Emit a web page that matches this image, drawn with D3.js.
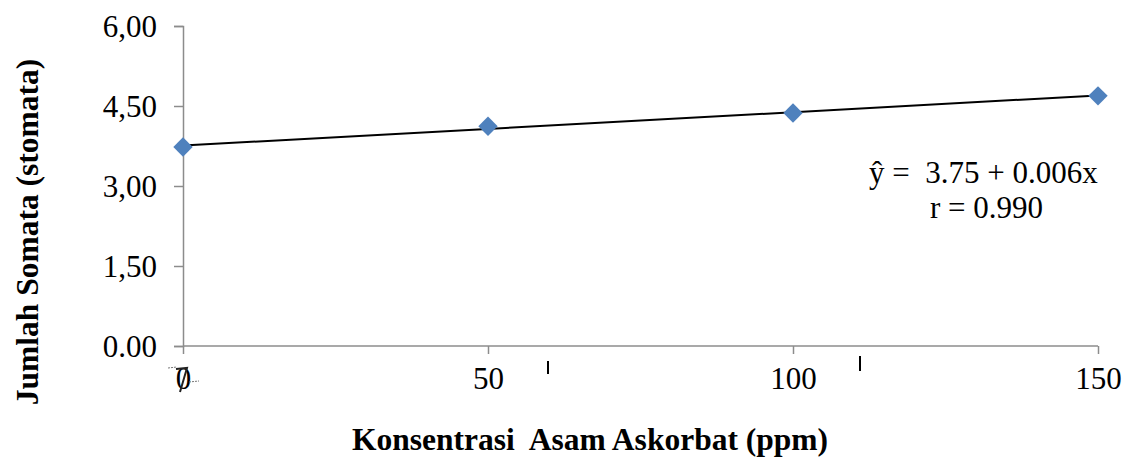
<!DOCTYPE html>
<html><head><meta charset="utf-8">
<script src="https://cdn.jsdelivr.net/npm/d3@7"></script>
<style>body{margin:0;background:#fff}svg{display:block}text{font-family:"Liberation Serif","Times New Roman",serif}</style>
</head><body><svg id="c" width="1125" height="459"></svg>
<script>
const concentrations = [0, 50, 100, 150];
const stomataCounts = [3.73, 4.12, 4.37, 4.69];
const yTicks = [0, 1.5, 3, 4.5, 6];
const yTickLabels = ["0.00", "1,50", "3,00", "4,50", "6,00"];
const xTicks = [0, 50, 100, 150];
const equationLines = ["ŷ =  3.75 + 0.006x", "r = 0.990"];

const svg = d3.select("#c");
const x = d3.scaleLinear().domain([0, 150]).range([183, 1098]);
const y = d3.scaleLinear().domain([0, 6]).range([346, 26]);
const axisColor = "#8c8c8c";

// Y axis
const yAxis = d3.axisLeft(y).tickValues(yTicks).tickSize(9).tickPadding(17)
  .tickFormat((d, i) => yTickLabels[i]);
const gy = svg.append("g").attr("transform", "translate(183,0)").call(yAxis);
gy.select(".domain").attr("stroke", axisColor).attr("stroke-width", 1.5);
gy.selectAll(".tick line").attr("stroke", axisColor).attr("stroke-width", 1.5);
gy.selectAll(".tick text").attr("font-size", 31).attr("fill", "#000")
  .attr("font-family", "Liberation Serif").attr("dy", "0.33em");

// X axis
const xAxis = d3.axisBottom(x).tickValues(xTicks).tickSize(8).tickPadding(13)
  .tickFormat(d3.format("d"));
const gx = svg.append("g").attr("transform", "translate(0,346)").call(xAxis);
gx.select(".domain").attr("stroke", axisColor).attr("stroke-width", 1.5)
  .attr("d", `M${x(0)},0H${x(150)}`);
gx.selectAll(".tick line").attr("stroke", axisColor).attr("stroke-width", 1.5);
gx.selectAll(".tick text").attr("font-size", 31).attr("fill", "#000")
  .attr("font-family", "Liberation Serif").attr("dy", "0.71em");

// stray marks as in the reference (drawn as strokes)
svg.append("path").attr("d", "M176,369 L187,368 L180,392")
  .attr("fill", "none").attr("stroke", "#222").attr("stroke-width", 2);
svg.append("line").attr("x1", 168).attr("y1", 368).attr("x2", 177).attr("y2", 367)
  .attr("stroke", "#777").attr("stroke-width", 1).attr("stroke-dasharray", "2,1");
svg.append("line").attr("x1", 189).attr("y1", 382).attr("x2", 199).attr("y2", 381)
  .attr("stroke", "#777").attr("stroke-width", 1).attr("stroke-dasharray", "2,1");
svg.append("line").attr("x1", 548).attr("y1", 361).attr("x2", 548).attr("y2", 374)
  .attr("stroke", "#000").attr("stroke-width", 2);
svg.append("line").attr("x1", 860).attr("y1", 356).attr("x2", 860).attr("y2", 371)
  .attr("stroke", "#000").attr("stroke-width", 2);

// Regression line from data
const n = concentrations.length;
const mx = d3.mean(concentrations), my = d3.mean(stomataCounts);
let sxy = 0, sxx = 0;
for (let i = 0; i < n; i++) {
  sxy += (concentrations[i] - mx) * (stomataCounts[i] - my);
  sxx += (concentrations[i] - mx) ** 2;
}
const slope = sxy / sxx, intercept = my - slope * mx;
const ends = d3.extent(concentrations);
svg.append("line")
  .attr("x1", x(ends[0])).attr("y1", y(intercept + slope * ends[0]))
  .attr("x2", x(ends[1])).attr("y2", y(intercept + slope * ends[1]))
  .attr("stroke", "#000").attr("stroke-width", 2);

// Markers
const diamond = d3.symbol().type(d3.symbolDiamond2).size(240);
svg.selectAll(".pt").data(concentrations).enter().append("path")
  .attr("d", diamond)
  .attr("transform", (d, i) => `translate(${x(d)},${y(stomataCounts[i])})`)
  .attr("fill", "#4F81BD");

// Equation
svg.append("text").attr("x", 869).attr("y", 183).attr("font-size", 31)
  .style("white-space", "pre").text(equationLines[0]);
svg.append("text").attr("x", 930).attr("y", 218).attr("font-size", 31).text(equationLines[1]);

// Axis titles
svg.append("text").attr("transform", "translate(38,232) rotate(-90)")
  .attr("text-anchor", "middle").attr("font-size", 31.5).attr("font-weight", "bold")
  .text("Jumlah Somata (stomata)");
svg.append("text").attr("x", 590).attr("y", 450)
  .attr("text-anchor", "middle").attr("font-size", 31.5).attr("font-weight", "bold")
  .style("white-space", "pre")
  .text("Konsentrasi  Asam Askorbat (ppm)");
</script></body></html>
